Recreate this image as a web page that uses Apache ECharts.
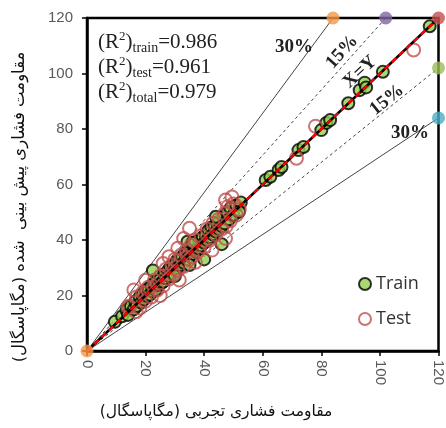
<!DOCTYPE html>
<html>
<head>
<meta charset="utf-8">
<script src="https://cdn.jsdelivr.net/npm/echarts@6/dist/echarts.min.js"></script>
<style>
html,body{margin:0;padding:0;background:#fff;}
#chart{width:446px;height:428px;}
</style>
</head>
<body>
<div id="chart"></div>
<script>
// داده‌ها: مقاومت تجربی (x) و پیش‌بینی‌شده (y)
var trainData = [
  [9.5,10.5],[12,12.5],[13.5,14.8],[14,13],[15,16.2],[16,15],[16.5,17.8],[17,16.2],[18,19.5],[18.5,17.5],
  [19,20.5],[19.5,18.6],[20,21.8],[20.5,19.8],[21,22.5],[21.5,20.3],[22,23.5],[22.5,21.4],[23,24.5],[23.5,22],
  [24,25.6],[24.5,23.8],[25,26.8],[25.5,24.6],[26,25],[26.5,27.6],[27,26.2],[27.5,28.8],[28,27],[28.5,30],
  [29,28.2],[29.5,31],[30,29.2],[30.5,32.2],[31,30],[31.5,33],[32,31],[32.5,34],[33,31.8],[33.5,35.2],
  [34,33],[34.5,36],[35,34],[35.5,37],[36,35],[36.5,38],[37,36],[37.5,39.5],[38,37],[38.5,40],
  [39,38],[39.5,41],[40,39],[40.5,42],[41,40],[41.5,43.5],[42,41],[42.5,44.5],[43,42],[43.5,45],
  [44,43],[44.5,46],[45,44],[45.5,47],[46,45],[46.5,48.5],[47,46],[48,50],[48.5,47.5],[49,51.5],
  [50,49],[51,52.5],[52.5,53.5],[22.5,29],[34.3,39.4],[36,39],[46,38.5],[44,48.4],[51.9,50.2],[40,33],
  [30,27],[35,31],
  [61,61.6],[62.6,62.8],[65.4,65.2],[66.4,66.3],[72.2,72.4],[73.9,73.5],[80,79.6],[81.7,82.2],
  [83,83.2],[89.2,89.3],[93.1,94],[94.8,96.7],[95.3,95],[101,100.6],[117,117]
];
var testData = [
  [14,16],[14.6,16],[16.8,14.2],[17,19.5],[18,15.5],[19,21],[20,18],[21,23],[22,19.5],[23,25.5],
  [24,22],[25,27],[26,23.5],[27,29.5],[28,26],[29,31],[29.5,27.5],[30,33],[31,29],[32,34.5],
  [33,30.5],[34,36],[35,33],[35.5,38],[36,34],[37,40],[38,36],[39,41.5],[40,37.5],[41,44],
  [42,40],[43,46],[44,42],[45,47.5],[46,44],[47,49.5],[47.5,45],[48,52],[49,47],[50,53],
  [51,49],[52,51],[16,22],[20,25.5],[26,31.5],[28,34],[33,40.5],[35,44.2],[37,32],[42.7,36.4],
  [47.3,40.6],[47.3,54.4],[49.5,55.5],[31.5,25.6],[31,37],[25,20],
  [71.5,69.5],[78,81],[111.5,108.5]
];
var axisMax = 120;
var axisStep = 20;
// حدود ±۱۵٪ و ±۳۰٪
var upper30 = [[0,0],[84,120]];
var upper15 = [[0,0],[102,120]];
var lineXY  = [[0,0],[120,120]];
var lower15 = [[0,0],[120,102]];
var lower30 = [[0,0],[120,84]];
var fitLine = [[0,0],[120,120]];

var endPoints = [
  {value:[0,0], color:'#f79646'},
  {value:[84,120], color:'#f79646'},
  {value:[102,120], color:'#8064a2'},
  {value:[120,120], color:'#c0504d'},
  {value:[120,102], color:'#9bbb59'},
  {value:[120,84], color:'#4bacc6'}
];

var chart = echarts.init(document.getElementById('chart'));
var labelFont = 'Liberation Sans, Arial, sans-serif';
var serif = 'Liberation Serif, Times New Roman, serif';
var persian = 'DejaVu Sans, sans-serif';

function guide(data, dashed) {
  return {
    type: 'line', data: data, symbol: 'none', silent: true, z: 1,
    lineStyle: {color: '#444', width: 1, type: dashed ? [3, 3] : 'solid'}
  };
}

var option = {
  animation: false,
  grid: {left: 87, right: 5, top: 18, bottom: 77, show: true, borderColor: '#000', borderWidth: 2.5},
  xAxis: {
    type: 'value', min: 0, max: axisMax, interval: axisStep,
    axisLine: {lineStyle: {color: '#000', width: 2.5}},
    axisTick: {show: true, length: 5, lineStyle: {color: '#000', width: 1.5}},
    axisLabel: {rotate: -90, color: '#595959', fontSize: 15, fontFamily: labelFont, margin: 9},
    splitLine: {show: false}
  },
  yAxis: {
    type: 'value', min: 0, max: axisMax, interval: axisStep,
    axisLine: {lineStyle: {color: '#000', width: 2.5}},
    axisTick: {show: true, length: 5, lineStyle: {color: '#000', width: 1.5}},
    axisLabel: {color: '#595959', fontSize: 15, fontFamily: labelFont, margin: 14},
    splitLine: {show: false}
  },
  legend: {
    orient: 'vertical', left: 353, top: 270, itemGap: 17,
    itemWidth: 12, itemHeight: 12,
    textStyle: {fontSize: 18, color: '#333', fontFamily: 'Open Sans, Liberation Sans, sans-serif'},
    data: [
      {name: 'Train', icon: 'circle', itemStyle: {color: '#92d050', borderColor: '#000', borderWidth: 2}},
      {name: 'Test', icon: 'circle', itemStyle: {color: '#fff', borderColor: '#c0504d', borderWidth: 2}}
    ]
  },
  series: [
    guide(upper30, false),
    guide(lower30, false),
    guide(upper15, true),
    guide(lower15, true),
    {
      name: 'Train', type: 'scatter', data: trainData, symbolSize: 12, z: 3,
      itemStyle: {color: '#92d050', borderColor: '#000', borderWidth: 2}
    },
    {
      name: 'Test', type: 'scatter', data: testData, symbolSize: 13, z: 4,
      itemStyle: {color: 'rgba(0,0,0,0)', borderColor: '#c0504d', borderWidth: 2}
    },
    {
      type: 'line', data: lineXY, symbol: 'none', silent: true, z: 5,
      lineStyle: {color: '#000', width: 2.5}
    },
    {
      type: 'line', data: fitLine, symbol: 'none', silent: true, z: 6,
      lineStyle: {color: '#ff0000', width: 2.2, type: [6, 4]}
    },
    {
      type: 'scatter', data: endPoints.map(function (p) {
        return {value: p.value, itemStyle: {color: p.color}};
      }),
      symbolSize: 13, clip: false, silent: true, z: 7
    }
  ],
  graphic: [
    {
      type: 'text', left: 98, top: 30, z: 10,
      style: {
        rich: {
          b: {fontSize: 21, fontFamily: serif, fill: '#222', lineHeight: 25},
          sup: {fontSize: 13, fontFamily: serif, fill: '#222', verticalAlign: 'top', lineHeight: 25},
          sub: {fontSize: 14, fontFamily: serif, fill: '#222', verticalAlign: 'bottom', lineHeight: 25}
        },
        text: '{b|(R}{sup|2}{b|)}{sub|train}{b|=0.986}\n{b|(R}{sup|2}{b|)}{sub|test}{b|=0.961}\n{b|(R}{sup|2}{b|)}{sub|total}{b|=0.979}'
      }
    },
    {type: 'text', x: 294, y: 47, z: 10, style: {text: '30%', font: 'bold 19px ' + serif, fill: '#222', align: 'center', verticalAlign: 'middle'}},
    {type: 'text', x: 342, y: 52, rotation: 48 * Math.PI / 180, z: 10, style: {text: '15%', font: 'bold 19px ' + serif, fill: '#222', align: 'center', verticalAlign: 'middle'}},
    {type: 'text', x: 360, y: 72, rotation: 43 * Math.PI / 180, z: 10, style: {text: 'X=Y', font: 'bold 19px ' + serif, fill: '#222', align: 'center', verticalAlign: 'middle'}},
    {type: 'text', x: 387, y: 100, rotation: 39 * Math.PI / 180, z: 10, style: {text: '15%', font: 'bold 19px ' + serif, fill: '#222', align: 'center', verticalAlign: 'middle'}},
    {type: 'text', x: 410, y: 133, z: 10, style: {text: '30%', font: 'bold 19px ' + serif, fill: '#222', align: 'center', verticalAlign: 'middle'}},
    {type: 'text', x: 216, y: 412, z: 10, style: {text: 'مقاومت فشاری تجربی (مگاپاسگال)', font: '15.5px ' + persian, fill: '#111', align: 'center', verticalAlign: 'middle'}},
    {type: 'text', x: 20, y: 207, rotation: Math.PI / 2, z: 10, style: {text: 'مقاومت فشاری پیش بینی  شده (مگاپاسگال)', font: '16.5px ' + persian, fill: '#111', align: 'center', verticalAlign: 'middle'}}
  ]
};
chart.setOption(option);
</script>
</body>
</html>
